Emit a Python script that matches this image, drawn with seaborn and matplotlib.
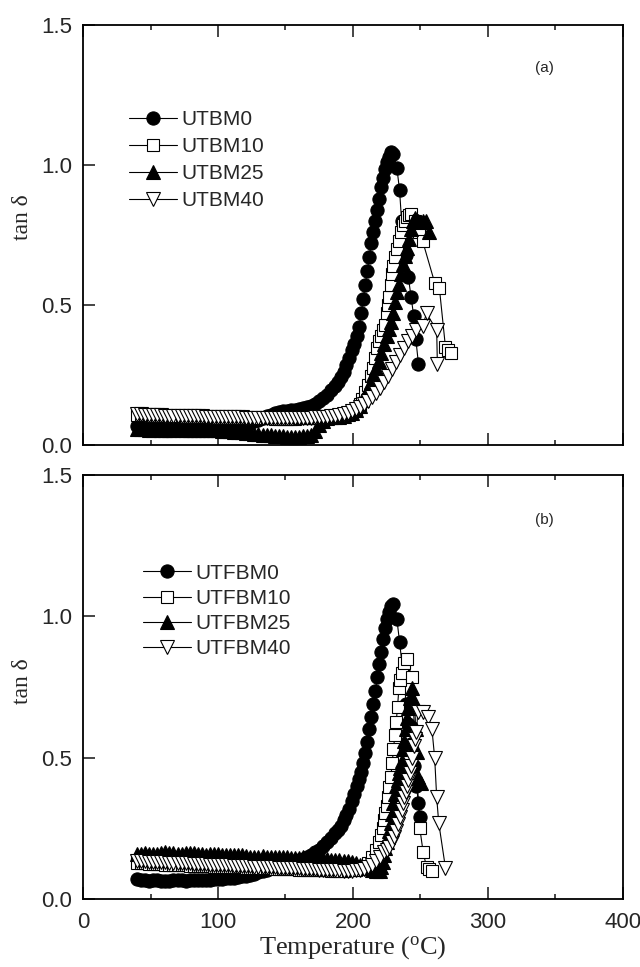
import matplotlib
matplotlib.use("Agg")
import matplotlib.pyplot as plt
import seaborn as sns
import pandas as pd
from matplotlib.ticker import MultipleLocator, FormatStrFormatter

# ---------------- data ----------------
base_temp = [40, 43, 46, 49, 52, 55, 58, 61, 64, 67, 70, 73, 76, 79, 82, 85, 88, 91, 94, 97,
             100, 103, 106, 109, 112, 115, 118, 121, 124, 127, 130, 133, 136]

# panel (a)
utbm0_base = [0.068, 0.066, 0.064, 0.063, 0.064, 0.065, 0.063, 0.062, 0.063, 0.064, 0.065, 0.064,
              0.063, 0.062, 0.063, 0.064, 0.065, 0.066, 0.065, 0.064, 0.065, 0.066, 0.067, 0.068,
              0.070, 0.072, 0.074, 0.077, 0.080, 0.084, 0.089, 0.095, 0.102]
utbm0_temp = [139, 142, 145, 148, 151, 154, 157, 160, 163, 166, 169, 172, 175, 178, 181, 184, 187,
              189, 191, 193, 195, 197, 199, 201, 203,
              204.5, 206, 207.5, 209, 210.5, 212, 213.5, 215, 216.5, 218, 219.5, 221, 222.5, 224,
              225.5, 227, 228.5, 230,
              232.5, 234.5, 236, 239, 241, 243, 245, 246.5, 248.5]
utbm0_tan = [0.108, 0.113, 0.117, 0.120, 0.122, 0.124, 0.126, 0.128, 0.131, 0.135, 0.140, 0.147,
             0.156, 0.167, 0.180, 0.195, 0.212,
             0.225, 0.242, 0.262, 0.285, 0.310, 0.338, 0.360, 0.390,
             0.420, 0.470, 0.520, 0.570, 0.620, 0.670, 0.720, 0.760, 0.800, 0.840, 0.880, 0.920,
             0.955, 0.985, 1.010, 1.030, 1.045, 1.040,
             0.990, 0.910, 0.800, 0.680, 0.600, 0.530, 0.460, 0.380, 0.290]

utbm10_base = [0.108, 0.107, 0.106, 0.106, 0.105, 0.105, 0.104, 0.104, 0.103, 0.103, 0.102, 0.102,
               0.101, 0.101, 0.100, 0.100, 0.100, 0.099, 0.099, 0.099, 0.098, 0.098, 0.098, 0.097,
               0.097, 0.097, 0.096, 0.096, 0.096, 0.095, 0.095, 0.095, 0.095]
utbm10_temp = [139, 142, 145, 148, 151, 154, 157, 160, 163, 166, 169, 172, 175, 178, 181, 184, 187,
               190, 193, 196, 199, 202,
               205, 207, 209, 211, 213, 215, 216.5, 218, 219.5, 221, 222.5, 224,
               225, 226, 227, 228, 229, 230, 231, 232.5, 234, 235.5, 237, 238.5, 240, 241.5, 243,
               246, 249, 251.5, 260.5, 264, 268.5, 270.5, 272.5]
utbm10_tan = [0.095, 0.094, 0.094, 0.094, 0.094, 0.094, 0.094, 0.095, 0.095, 0.095, 0.096, 0.097,
              0.098, 0.099, 0.100, 0.102, 0.104, 0.107, 0.111, 0.116, 0.122, 0.130,
              0.145, 0.165, 0.190, 0.215, 0.245, 0.275, 0.310, 0.345, 0.370, 0.390, 0.410, 0.430,
              0.470, 0.500, 0.530, 0.570, 0.610, 0.640, 0.670, 0.700, 0.730, 0.760, 0.785, 0.800,
              0.815, 0.822, 0.825,
              0.800, 0.760, 0.730, 0.580, 0.560, 0.350, 0.340, 0.330]

utbm25_base = [0.058, 0.057, 0.056, 0.055, 0.055, 0.056, 0.055, 0.054, 0.054, 0.055, 0.056, 0.055,
               0.054, 0.053, 0.053, 0.054, 0.055, 0.054, 0.053, 0.052, 0.052, 0.051, 0.050, 0.049,
               0.048, 0.047, 0.046, 0.044, 0.042, 0.040, 0.038, 0.036, 0.035]
utbm25_temp = [139, 142, 145, 148, 151, 154, 157, 160, 163, 166, 169, 172, 175, 178, 181, 184, 187,
               190, 193, 196, 199, 202, 205,
               207, 209, 211, 213, 215, 217, 219, 221, 223, 225,
               226.5, 228, 229.5, 231, 232.5, 234, 235.5, 237, 238.5, 240, 241.5, 243, 244.5,
               246, 248, 250, 252, 254, 256.5]
utbm25_tan = [0.034, 0.033, 0.032, 0.031, 0.030, 0.030, 0.030, 0.030, 0.031, 0.032, 0.035, 0.050,
              0.070, 0.085, 0.095, 0.100, 0.100, 0.100, 0.105, 0.110, 0.115, 0.125, 0.140,
              0.160, 0.180, 0.200, 0.225, 0.250, 0.275, 0.300, 0.330, 0.360, 0.390,
              0.415, 0.440, 0.470, 0.510, 0.545, 0.575, 0.610, 0.645, 0.675, 0.705, 0.735, 0.770,
              0.800,
              0.810, 0.800, 0.795, 0.800, 0.800, 0.760]

utbm40_base = [0.110, 0.109, 0.108, 0.107, 0.107, 0.106, 0.106, 0.105, 0.105, 0.104, 0.104, 0.103,
               0.103, 0.103, 0.102, 0.102, 0.102, 0.101, 0.101, 0.101, 0.100, 0.100, 0.100, 0.100,
               0.099, 0.099, 0.099, 0.098, 0.098, 0.098, 0.098, 0.097, 0.097]
utbm40_temp = [139, 142, 145, 148, 151, 154, 157, 160, 163, 166, 169, 172, 175, 178, 181, 184, 187,
               190, 193, 196, 199, 202, 205, 208, 211, 214, 217, 220, 223, 226, 229, 232, 235, 238,
               241, 244, 247, 251.5, 254.5, 262, 262.5]
utbm40_tan = [0.097, 0.097, 0.097, 0.097, 0.097, 0.097, 0.097, 0.097, 0.098, 0.098, 0.098, 0.099,
              0.099, 0.100, 0.101, 0.102, 0.104, 0.106, 0.110, 0.115, 0.121, 0.128, 0.136, 0.145,
              0.156, 0.170, 0.186, 0.205, 0.225, 0.248, 0.272, 0.297, 0.320, 0.345, 0.370, 0.390,
              0.410, 0.425, 0.470, 0.410, 0.290]

# panel (b)
utfbm0_base = [0.070, 0.068, 0.066, 0.065, 0.066, 0.067, 0.065, 0.064, 0.065, 0.066, 0.067, 0.066,
               0.065, 0.066, 0.067, 0.068, 0.069, 0.068, 0.069, 0.070, 0.071, 0.072, 0.073, 0.074,
               0.076, 0.078, 0.080, 0.083, 0.086, 0.090, 0.094, 0.099, 0.104]
utfbm0_temp = [139, 142, 145, 148, 151, 154, 157, 160, 163, 166, 169, 172, 175, 178, 181, 184, 187,
               189, 191, 193, 195, 197, 199, 201, 203,
               204.5, 206, 207.5, 209, 210.5, 212, 213.5, 215, 216.5, 218, 219.5, 221, 222.5, 224,
               225.5, 227, 228.5, 230,
               232.5, 234.5, 237, 239.5, 241, 243, 245, 247, 248.5, 249.5]
utfbm0_tan = [0.108, 0.112, 0.116, 0.120, 0.124, 0.128, 0.133, 0.138, 0.143, 0.150, 0.157, 0.165,
              0.175, 0.187, 0.200, 0.215, 0.232,
              0.245, 0.260, 0.278, 0.298, 0.320, 0.345, 0.372, 0.400,
              0.425, 0.450, 0.480, 0.515, 0.555, 0.600, 0.645, 0.690, 0.735, 0.785, 0.830, 0.875,
              0.920, 0.960, 0.990, 1.015, 1.035, 1.045,
              0.990, 0.910, 0.800, 0.690, 0.620, 0.550, 0.470, 0.400, 0.340, 0.290]

utfbm10_base = [0.128, 0.127, 0.126, 0.125, 0.124, 0.124, 0.123, 0.122, 0.121, 0.121, 0.120, 0.119,
                0.119, 0.118, 0.118, 0.117, 0.117, 0.116, 0.116, 0.115, 0.115, 0.114, 0.114, 0.113,
                0.113, 0.112, 0.112, 0.111, 0.111, 0.110, 0.110, 0.109, 0.109]
utfbm10_temp = [139, 142, 145, 148, 151, 154, 157, 160, 163, 166, 169, 172, 175, 178, 181, 184, 187,
                190, 193, 196, 199, 202, 205, 208, 211, 214, 217,
                219, 220.5, 222, 223, 224, 225, 226, 227, 228, 229, 230, 231, 232, 233, 234, 235,
                236.5, 238, 240,
                243.5, 249.5, 252, 254.5, 256.5, 258.5]
utfbm10_tan = [0.108, 0.107, 0.107, 0.106, 0.106, 0.105, 0.105, 0.104, 0.104, 0.103, 0.103, 0.102,
               0.102, 0.101, 0.101, 0.100, 0.100, 0.100, 0.100, 0.101, 0.102, 0.104, 0.108, 0.115,
               0.128, 0.148, 0.175,
               0.200, 0.225, 0.250, 0.280, 0.305, 0.330, 0.360, 0.395, 0.430, 0.480, 0.530, 0.580,
               0.625, 0.680, 0.745, 0.775, 0.800, 0.835, 0.850,
               0.785, 0.250, 0.165, 0.113, 0.105, 0.100]

utfbm25_base = [0.158, 0.160, 0.162, 0.161, 0.159, 0.160, 0.163, 0.165, 0.164, 0.162, 0.160, 0.161,
                0.163, 0.164, 0.162, 0.160, 0.158, 0.157, 0.158, 0.160, 0.159, 0.157, 0.155, 0.154,
                0.155, 0.156, 0.154, 0.152, 0.150, 0.149, 0.150, 0.151, 0.149]
utfbm25_temp = [139, 142, 145, 148, 151, 154, 157, 160, 163, 166, 169, 172, 175, 178, 181, 184, 187,
                190, 193, 196, 199, 202, 205, 208, 211, 214, 217, 220,
                221, 222, 223, 224, 225, 226, 227, 228, 229, 230, 231, 232, 233, 234, 235, 236, 237,
                238, 239, 240, 241, 242,
                243.5, 245.5, 246.5, 247.5, 248.5, 250.5]
utfbm25_tan = [0.148, 0.147, 0.149, 0.150, 0.148, 0.146, 0.145, 0.146, 0.147, 0.146, 0.144, 0.143,
               0.142, 0.141, 0.140, 0.139, 0.138, 0.137, 0.136, 0.135, 0.132, 0.128, 0.122, 0.115,
               0.108, 0.102, 0.098, 0.100,
               0.115, 0.130, 0.155, 0.180, 0.200, 0.220, 0.240, 0.270, 0.300, 0.340, 0.370, 0.400,
               0.420, 0.445, 0.465, 0.490, 0.530, 0.560, 0.600, 0.640, 0.675, 0.710,
               0.745, 0.700, 0.600, 0.520, 0.430, 0.410]

utfbm40_base = [0.135, 0.134, 0.133, 0.132, 0.132, 0.131, 0.130, 0.130, 0.129, 0.128, 0.128, 0.127,
                0.126, 0.126, 0.125, 0.124, 0.124, 0.123, 0.122, 0.122, 0.121, 0.120, 0.120, 0.119,
                0.118, 0.118, 0.117, 0.116, 0.116, 0.115, 0.114, 0.114, 0.113]
utfbm40_temp = [139, 142, 145, 148, 151, 154, 157, 160, 163, 166, 169, 172, 175, 178, 181, 184, 187,
                190, 193, 196, 199, 202, 205, 208, 211, 214, 217, 220, 223,
                225, 227, 229, 230.5, 232, 233.5, 235, 236, 237, 238, 239, 240, 241, 242, 243, 244,
                245, 246, 247,
                248, 251.5, 255.5, 258.5, 260.5, 262, 263.5, 268.5]
utfbm40_tan = [0.112, 0.112, 0.111, 0.110, 0.110, 0.109, 0.108, 0.108, 0.107, 0.106, 0.106, 0.105,
               0.104, 0.104, 0.103, 0.102, 0.102, 0.101, 0.100, 0.100, 0.100, 0.101, 0.103, 0.107,
               0.113, 0.122, 0.134, 0.150, 0.165,
               0.175, 0.185, 0.200, 0.220, 0.240, 0.265, 0.290, 0.315, 0.340, 0.360, 0.380, 0.400,
               0.420, 0.445, 0.470, 0.500, 0.540, 0.565, 0.590,
               0.660, 0.660, 0.645, 0.600, 0.500, 0.360, 0.270, 0.110]

labels_a = ["UTBM0", "UTBM10", "UTBM25", "UTBM40"]
labels_b = ["UTFBM0", "UTFBM10", "UTFBM25", "UTFBM40"]
x_ticks = [0, 100, 200, 300, 400]
y_ticks = [0.0, 0.5, 1.0, 1.5]

series_a = [(utbm0_base, utbm0_temp, utbm0_tan), (utbm10_base, utbm10_temp, utbm10_tan),
            (utbm25_base, utbm25_temp, utbm25_tan), (utbm40_base, utbm40_temp, utbm40_tan)]
series_b = [(utfbm0_base, utfbm0_temp, utfbm0_tan), (utfbm10_base, utfbm10_temp, utfbm10_tan),
            (utfbm25_base, utfbm25_temp, utfbm25_tan), (utfbm40_base, utfbm40_temp, utfbm40_tan)]

# ---------------- style ----------------
sns.set_style("white")
plt.rcParams['font.family'] = ['Liberation Sans', 'DejaVu Sans']
plt.rcParams['mathtext.fontset'] = 'custom'
plt.rcParams['mathtext.rm'] = 'Liberation Serif'

marker_styles = [("o", "black", 9.5), ("s", "white", 8.5), ("^", "black", 10.0), ("v", "white", 10.0)]

fig = plt.figure(figsize=(6.4, 9.67), dpi=100)
ax1 = fig.add_axes([0.1297, 0.5398, 0.8437, 0.4343])
ax2 = fig.add_axes([0.1297, 0.0703, 0.8437, 0.4385])


def draw(ax, series, labels):
    for (base, temp, tan), lab, (mk, fc, ms) in zip(series, labels, marker_styles):
        df = pd.DataFrame({"T": base_temp + temp, "tan": base + tan})
        sns.lineplot(data=df, x="T", y="tan", ax=ax, sort=False, estimator=None,
                     color="black", linewidth=0.8, marker=mk, markersize=ms,
                     markerfacecolor=fc, markeredgecolor="black", markeredgewidth=0.8,
                     label=lab)


def style(ax, show_xlabels, ylabel_y):
    ax.set_xlim(0, 400)
    ax.set_ylim(0, 1.5)
    ax.set_xticks(x_ticks)
    ax.set_yticks(y_ticks)
    ax.xaxis.set_minor_locator(MultipleLocator(50))
    ax.yaxis.set_major_formatter(FormatStrFormatter("%.1f"))
    ax.tick_params(axis="x", which="major", direction="in", length=8.6, width=1.2,
                   top=True, bottom=True, labelsize=16, pad=9, labelbottom=show_xlabels)
    ax.tick_params(axis="x", which="minor", direction="in", length=3.6, width=1.2,
                   top=True, bottom=True)
    ax.tick_params(axis="y", which="major", direction="in", length=8.6, width=1.2,
                   left=True, right=False, labelsize=16, pad=8)
    for sp in ax.spines.values():
        sp.set_linewidth(1.3)
        sp.set_color("black")
    ax.set_ylabel("tan δ")
    ylab = ax.yaxis.label
    ylab.set_family(["Liberation Serif", "DejaVu Serif"])
    ylab.set_fontsize(17)
    ax.yaxis.set_label_coords(-0.093, ylabel_y)
    if show_xlabels:
        ax.set_xlabel("Temperature ($\\mathregular{^o}$C)", labelpad=1)
        xlab = ax.xaxis.label
        xlab.set_family(["Liberation Serif", "DejaVu Serif"])
        xlab.set_fontsize(19)
    else:
        ax.set_xlabel("")


draw(ax1, series_a, labels_a)
draw(ax2, series_b, labels_b)
style(ax1, False, 0.543)
style(ax2, True, 0.514)

ax1.legend(loc="upper left", bbox_to_anchor=(0.086, 0.797), frameon=False, fontsize=15,
           handlelength=2.3, handletextpad=0.2, labelspacing=0.38, borderpad=0, borderaxespad=0)
ax2.legend(loc="upper left", bbox_to_anchor=(0.111, 0.791), frameon=False, fontsize=15,
           handlelength=2.3, handletextpad=0.2, labelspacing=0.3, borderpad=0, borderaxespad=0)

ax1.text(342, 1.346, "(a)", fontsize=11, ha="center", va="center")
ax2.text(342, 1.34, "(b)", fontsize=11, ha="center", va="center")

fig.savefig("out.png", dpi=100)
